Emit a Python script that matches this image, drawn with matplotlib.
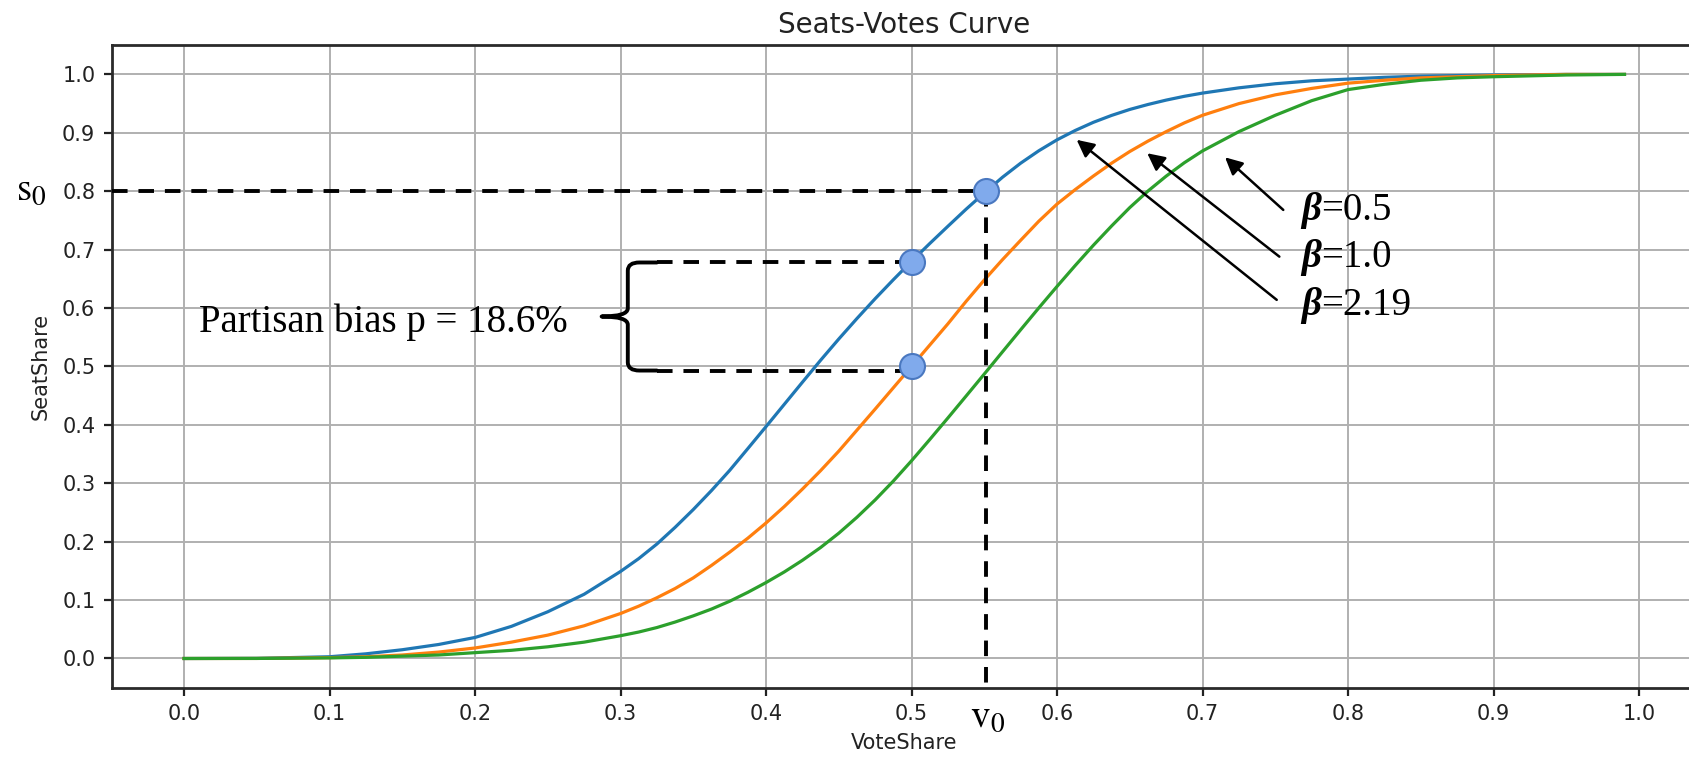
import matplotlib
matplotlib.use("Agg")
import matplotlib.pyplot as plt
import matplotlib.transforms as mtransforms
from matplotlib.path import Path
from matplotlib.patches import PathPatch

# vote share grid and seat shares
vote_share = [0.0, 0.05, 0.1, 0.125, 0.15, 0.175, 0.2, 0.225, 0.25, 0.275,
              0.3, 0.3125, 0.325, 0.3375, 0.35, 0.3625, 0.375, 0.3875, 0.4,
              0.4125, 0.425, 0.4375, 0.45, 0.4625, 0.475, 0.4875, 0.5, 0.5125,
              0.525, 0.5375, 0.55, 0.5625, 0.575, 0.5875, 0.6, 0.6125, 0.625,
              0.6375, 0.65, 0.6625, 0.675, 0.6875, 0.7,
              0.725, 0.75, 0.775, 0.8, 0.825, 0.85, 0.875, 0.9, 0.95, 0.99]
seats_beta_219 = [0.0, 0.0003, 0.003, 0.008, 0.015, 0.024, 0.036, 0.055, 0.080, 0.110,
                  0.149, 0.171, 0.196, 0.2245, 0.255, 0.2875, 0.322, 0.3594, 0.397,
                  0.435, 0.473, 0.5106, 0.547, 0.5821, 0.616, 0.6485, 0.680, 0.7104,
                  0.740, 0.7692, 0.797, 0.8239, 0.848, 0.8693, 0.888, 0.904, 0.918,
                  0.9298, 0.940, 0.9485, 0.956, 0.9625, 0.968,
                  0.977, 0.984, 0.989, 0.992, 0.995, 0.997, 0.998, 0.999, 1.0, 1.0]
seats_beta_10 = [0.0, 0.0001, 0.0015, 0.003, 0.006, 0.011, 0.018, 0.028, 0.040, 0.056,
                 0.077, 0.0896, 0.104, 0.1198, 0.138, 0.1593, 0.182, 0.206, 0.232,
                 0.260, 0.290, 0.3216, 0.355, 0.391, 0.427, 0.4635, 0.500, 0.5365,
                 0.573, 0.6114, 0.648, 0.6828, 0.716, 0.7487, 0.778, 0.8028, 0.826,
                 0.848, 0.868, 0.8858, 0.902, 0.917, 0.930,
                 0.950, 0.965, 0.976, 0.985, 0.990, 0.994, 0.996, 0.998, 1.0, 1.0]
seats_beta_05 = [0.0, 0.0001, 0.001, 0.002, 0.004, 0.006, 0.010, 0.014, 0.020, 0.028,
                 0.039, 0.0453, 0.053, 0.0624, 0.073, 0.0846, 0.098, 0.1133, 0.130,
                 0.1481, 0.1681, 0.1900, 0.2145, 0.2418, 0.2715, 0.3038, 0.3385,
                 0.3748, 0.4118, 0.4493, 0.4870, 0.5250, 0.5628, 0.6003, 0.637,
                 0.6728, 0.7075, 0.7405, 0.772, 0.8003, 0.8258, 0.8488, 0.869,
                 0.902, 0.930, 0.955, 0.974, 0.983, 0.990, 0.994, 0.996, 0.999, 1.0]

# highlighted points: (v0, s0) and the two seat shares at 50% of the vote
point_v = [0.551, 0.5, 0.5]
point_s = [0.8, 0.678, 0.5]
v0, s0 = 0.551, 0.8
bias_top, bias_bottom = 0.678, 0.493

beta_labels = ["=0.5", "=1.0", "=2.19"]
arrow_heads = [(0.7155, 0.858), (0.662, 0.865), (0.6135, 0.888)]
arrow_tails = [(0.7555, 0.768), (0.7528, 0.688), (0.751, 0.614)]
label_y = [0.751, 0.670, 0.588]

x_ticks = [0.0, 0.1, 0.2, 0.3, 0.4, 0.5, 0.6, 0.7, 0.8, 0.9, 1.0]
y_ticks = [0.0, 0.1, 0.2, 0.3, 0.4, 0.5, 0.6, 0.7, 0.8, 0.9, 1.0]

serif = "Liberation Serif"
plt.rcParams["mathtext.fontset"] = "stix"

fig = plt.figure(figsize=(16.9, 7.6), dpi=100)
ax = fig.add_axes([112 / 1690, 1 - 687.7 / 760, 1584.5 / 1690, 642.5 / 760])

line_kw = dict(lw=2.3, zorder=3, solid_joinstyle="round")
ax.plot(vote_share, seats_beta_219, color="tab:blue", **line_kw)
ax.plot(vote_share, seats_beta_10, color="tab:orange", **line_kw)
ax.plot(vote_share, seats_beta_05, color="tab:green", **line_kw)

ax.set_xlim(-0.0495, 1.0395)
ax.set_ylim(-0.05, 1.05)
ax.set_xticks(x_ticks)
ax.set_yticks(y_ticks)
ax.set_xticklabels([f"{t:.1f}" for t in x_ticks])
ax.set_yticklabels([f"{t:.1f}" for t in y_ticks])
ax.tick_params(labelsize=15, length=6, width=1.6, pad=6, colors="#222222")
ax.grid(True, color="#b0b0b0", lw=1.4, zorder=0)
ax.set_axisbelow(True)
for sp in ax.spines.values():
    sp.set_linewidth(2.0)
    sp.set_color("#2a2a2a")

ax.set_title("Seats-Votes Curve", fontsize=20, pad=9, color="#222222")
ax.set_xlabel("VoteShare", fontsize=15, labelpad=6, color="#222222")
ax.set_ylabel("SeatShare", fontsize=15, labelpad=8, color="#222222")

# dashed guide lines
dash = dict(color="black", lw=2.8, dashes=(4, 2.8), zorder=4)
ax.plot([-0.0495, v0], [s0, s0], **dash)
ax.plot([v0, v0], [s0, -0.05], **dash)
ax.plot([0.325, 0.5], [bias_top, bias_top], **dash)
ax.plot([0.325, 0.5], [bias_bottom, bias_bottom], **dash)

# curly brace for the partisan bias
mid = (bias_top + bias_bottom) / 2
bx, tip = 0.305, 0.287
verts = [(0.325, bias_top), (0.313, bias_top), (bx, bias_top), (bx, bias_top - 0.014),
         (bx, mid + 0.014), (bx, mid), (tip, mid),
         (bx, mid), (bx, mid - 0.014),
         (bx, bias_bottom + 0.014), (bx, bias_bottom), (0.313, bias_bottom),
         (0.325, bias_bottom)]
codes = [Path.MOVETO, Path.LINETO, Path.CURVE3, Path.CURVE3,
         Path.LINETO, Path.CURVE3, Path.CURVE3,
         Path.CURVE3, Path.CURVE3,
         Path.LINETO, Path.CURVE3, Path.CURVE3,
         Path.LINETO]
ax.add_patch(PathPatch(Path(verts, codes), fill=False, lw=2.8, color="black",
                       capstyle="round", joinstyle="round", zorder=4))

ax.plot(point_v, point_s, "o", ms=18, mfc="#80aaec", mec="#4a78c0", mew=1.5,
        zorder=5)

ax.text(0.0103, 0.559, "Partisan bias p = 18.6%", family=serif, fontsize=28,
        va="baseline", ha="left", zorder=6)

# s0 / v0 labels outside the axes
left_tr = mtransforms.blended_transform_factory(ax.transAxes, ax.transData)
bottom_tr = mtransforms.blended_transform_factory(ax.transData, ax.transAxes)
ax.text(-0.0511, 0.785, r"$\mathrm{s}_0$", fontsize=28, ha="center",
        va="baseline", transform=left_tr, clip_on=False)
ax.text(0.552, -0.061, r"$\mathrm{v}_0$", fontsize=28, ha="center",
        va="baseline", transform=bottom_tr, clip_on=False)

# beta arrows and labels
for lab, head, tail, ly in zip(beta_labels, arrow_heads, arrow_tails, label_y):
    ax.annotate("", xy=head, xytext=tail,
                arrowprops=dict(arrowstyle="-|>", color="black", lw=1.8,
                                mutation_scale=26, shrinkA=0, shrinkB=0),
                zorder=6)
    t = ax.text(0.768, ly, "\u03b2", family=serif, fontsize=28,
                fontweight="bold", style="italic", va="baseline", ha="left")
    ax.annotate(lab, xy=(1, 0), xycoords=t, family=serif, fontsize=28,
                va="bottom", ha="left")

plt.savefig("out.png", dpi=100)
